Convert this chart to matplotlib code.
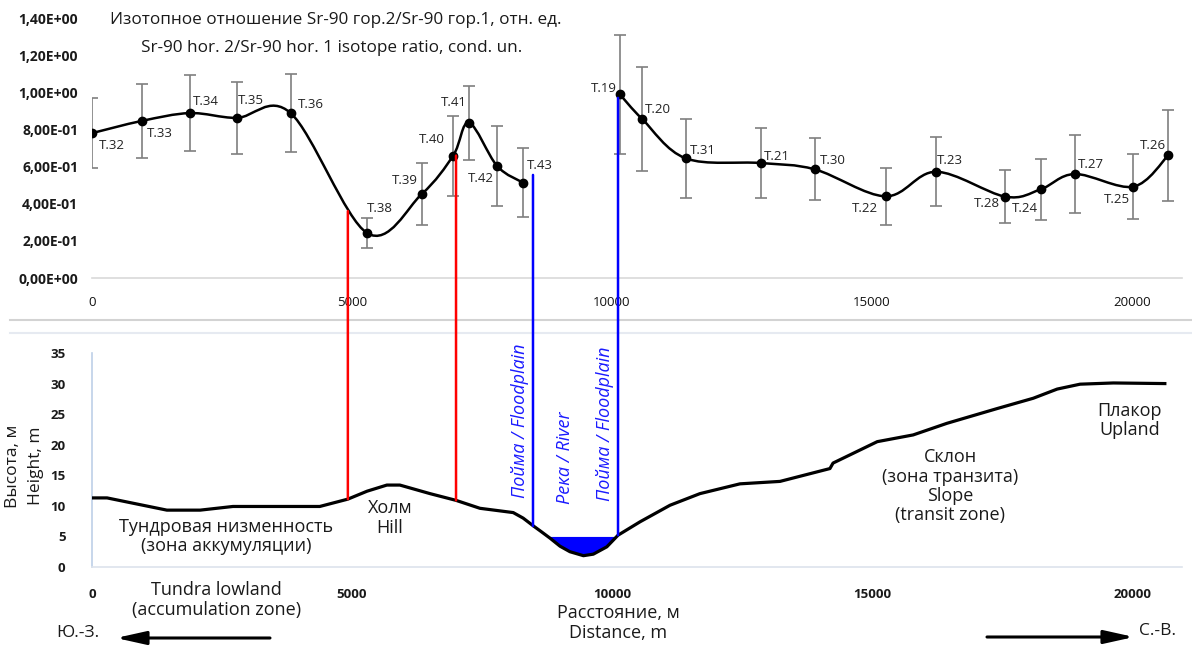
import numpy as np
import matplotlib
matplotlib.use("Agg")
import matplotlib.pyplot as plt
from matplotlib.path import Path
from matplotlib.patches import PathPatch, ConnectionPatch, FancyArrowPatch
from matplotlib.lines import Line2D
from matplotlib.ticker import FuncFormatter

plt.rcParams['font.family'] = ['Open Sans', 'DejaVu Sans']

# ---------------- data ----------------
left_names = ["T.32", "T.33", "T.34", "T.35", "T.36", "T.38", "T.39", "T.40", "T.41", "T.42", "T.43"]
left_x = [0, 960, 1885, 2780, 3820, 5290, 6340, 6945, 7250, 7790, 8290]
left_y = [0.78, 0.846, 0.888, 0.862, 0.888, 0.242, 0.452, 0.659, 0.836, 0.603, 0.513]
left_err = [0.19, 0.20, 0.205, 0.195, 0.21, 0.08, 0.167, 0.215, 0.20, 0.215, 0.185]

right_names = ["T.19", "T.20", "T.31", "T.21", "T.30", "T.22", "T.23", "T.28", "T.24", "T.27", "T.25", "T.26"]
right_x = [10150, 10580, 11420, 12860, 13900, 15260, 16230, 17560, 18240, 18900, 20025, 20700]
right_y = [0.989, 0.856, 0.644, 0.619, 0.585, 0.44, 0.572, 0.438, 0.477, 0.56, 0.492, 0.662]
right_err = [0.32, 0.28, 0.213, 0.187, 0.167, 0.153, 0.186, 0.142, 0.164, 0.21, 0.175, 0.245]

ground_x = [0, 290, 1440, 2080, 2710, 4380, 4920, 5290, 5670, 5920, 6500, 7000, 7460, 8100,
            8290, 8490, 8620, 8810, 9000, 9190, 9450, 9640, 9900, 10115, 10540, 11115, 11690,
            12460, 13230, 14190, 14250, 15100, 15790, 16440, 17400, 18100, 18560, 19000, 19640, 20630]
ground_y = [11.3, 11.3, 9.3, 9.3, 9.9, 9.9, 11.1, 12.4, 13.4, 13.4, 12.0, 10.9, 9.6, 8.9,
            8.0, 6.7, 5.9, 4.7, 3.4, 2.5, 1.85, 2.1, 3.3, 5.2, 7.4, 10.1, 12.0,
            13.6, 14.0, 16.1, 17.0, 20.5, 21.6, 23.5, 25.9, 27.6, 29.1, 29.9, 30.1, 30.0]
water_level = 5.0

red_x = [4920, 7000]
red_top = [0.36, 0.659]
red_bottom = [11.1, 10.9]
blue_x = [8480, 10115]
blue_top = [0.555, 0.97]
blue_bottom = [6.7, 5.2]

x_ticks = [0, 5000, 10000, 15000, 20000]
ratio_ticks = [0.0, 0.2, 0.4, 0.6, 0.8, 1.0, 1.2, 1.4]
height_ticks = [0, 5, 10, 15, 20, 25, 30, 35]

# label placement (ha, dx px, dy px)
left_lab = [("left", 7, -12), ("left", 5, -13), ("left", 3, 12), ("left", 1, 17), ("left", 7, 9),
            ("left", 0, 25), ("right", -4, 14), ("right", -8, 16), ("right", -2, 20),
            ("right", -3, -12), ("left", 4, 17)]
right_lab = [("right", -3, 6), ("left", 3, 10), ("left", 4, 8), ("left", 3, 7), ("left", 5, 9),
             ("right", -8, -12), ("left", 1, 11), ("right", -5, -7), ("right", -3, -19),
             ("left", 3, 9), ("right", -3, -13), ("right", -3, 10)]

W, H = 1192, 646
fig = plt.figure(figsize=(W / 100, H / 100), dpi=100)
XMAX = 20960

def fx(px):
    return px / W

def fy(py):
    return 1 - py / H

ax1 = fig.add_axes([fx(92), fy(278), fx(1182) - fx(92), fy(18) - fy(278)])
ax2 = fig.add_axes([fx(92), fy(567), fx(1182) - fx(92), fy(353) - fy(567)])


def smooth_path(xs, ys):
    pts = np.column_stack([xs, ys]).astype(float)
    n = len(pts)
    verts = [pts[0]]
    codes = [Path.MOVETO]
    for i in range(n - 1):
        p0 = pts[i - 1] if i > 0 else pts[i]
        p1 = pts[i]
        p2 = pts[i + 1]
        p3 = pts[i + 2] if i + 2 < n else pts[i + 1]
        c1 = p1 + (p2 - p0) / 6.0
        c2 = p2 - (p3 - p1) / 6.0
        verts += [c1, c2, p2]
        codes += [Path.CURVE4] * 3
    return Path(verts, codes)

# ---------------- top chart ----------------
for xs, ys, es, names, labs in [(left_x, left_y, left_err, left_names, left_lab),
                                (right_x, right_y, right_err, right_names, right_lab)]:
    ax1.errorbar(xs, ys, yerr=es, fmt='none', ecolor='#7f7f7f', elinewidth=1.2,
                 capsize=4, capthick=1.2, zorder=2)
    ax1.add_patch(PathPatch(smooth_path(xs, ys), facecolor='none', edgecolor='black',
                            lw=1.8, zorder=3))
    ax1.plot(xs, ys, 'o', color='black', ms=6, zorder=4)
    for x, y, nm, (ha, dx, dy) in zip(xs, ys, names, labs):
        ax1.annotate(nm, (x, y), xytext=(dx, dy), textcoords='offset pixels',
                     ha=ha, va='center', fontsize=9.5, color='#222222', zorder=5)

ax1.set_xlim(0, XMAX)
ax1.set_ylim(0, 1.4)
ax1.set_xticks(x_ticks)
ax1.set_yticks(ratio_ticks)
ax1.yaxis.set_major_formatter(FuncFormatter(lambda v, p: f"{v:.2E}".replace('.', ',')))
for s in ['top', 'right', 'left']:
    ax1.spines[s].set_visible(False)
ax1.spines['bottom'].set_color('#d9d9d9')
ax1.spines['bottom'].set_linewidth(1.2)
ax1.tick_params(axis='both', length=0)
ax1.tick_params(axis='x', pad=13, labelsize=9.5, labelcolor='#111111')
ax1.tick_params(axis='y', pad=10, labelsize=10, labelcolor='#1a1a1a')
for t in ax1.get_yticklabels():
    t.set_fontweight('bold')

fig.text(fx(336), fy(20), "Изотопное отношение Sr-90 гор.2/Sr-90 гор.1, отн. ед.",
         ha='center', va='center', fontsize=12.3, color='#1a1a1a')
fig.text(fx(332), fy(48), "Sr-90 hor. 2/Sr-90 hor. 1 isotope ratio, cond. un.",
         ha='center', va='center', fontsize=12.3, color='#1a1a1a')

# ---------------- bottom chart ----------------
gx = np.array(ground_x, dtype=float)
gy = np.array(ground_y, dtype=float)
ax2.fill_between(gx, gy, water_level, where=gy <= water_level + 0.01, interpolate=True,
                 color='#0000ff', lw=0, zorder=2)
ax2.plot(gx, gy, color='black', lw=2.3, zorder=3)
ax2.set_xlim(0, XMAX)
ax2.set_ylim(0, 35)
ax2.set_xticks(x_ticks)
ax2.set_yticks(height_ticks)
for s in ['top', 'right']:
    ax2.spines[s].set_visible(False)
ax2.spines['left'].set_color('#bdd0e8')
ax2.spines['left'].set_linewidth(1.2)
ax2.spines['bottom'].set_color('#dde3ec')
ax2.spines['bottom'].set_linewidth(1.2)
ax2.tick_params(axis='both', length=0, labelsize=9.5, labelcolor='#1a1a1a')
ax2.tick_params(axis='x', pad=15)
ax2.tick_params(axis='y', pad=19)
for t in ax2.get_xticklabels() + ax2.get_yticklabels():
    t.set_fontweight('bold')

# connecting vertical lines
for xs, tops, bots, col in [(red_x, red_top, red_bottom, '#ff0000'),
                            (blue_x, blue_top, blue_bottom, '#0000ff')]:
    for x, t, b in zip(xs, tops, bots):
        cp = ConnectionPatch((x, t), (x, b), coordsA='data', coordsB='data',
                             axesA=ax1, axesB=ax2, color=col, lw=1.8, zorder=6)
        fig.add_artist(cp)

# rotated labels
rot_kw = dict(rotation=90, ha='center', va='center', fontsize=13, style='italic',
              color='#1a1aff')
ax2.text(8230, 23.9, "Пойма / Floodplain", **rot_kw)
ax2.text(9100, 17.8, "Река / River", **rot_kw)
ax2.text(9870, 23.5, "Пойма / Floodplain", **rot_kw)

zone_kw = dict(ha='center', va='center', fontsize=13, color='#1a1a1a', linespacing=1.1)
ax2.text(2580, 5.0, "Тундровая низменность\n(зона аккумуляции)", **zone_kw)
ax2.text(5730, 8.0, "Холм\nHill", **zone_kw)
ax2.text(16500, 13.2, "Склон\n(зона транзита)\nSlope\n(transit zone)", **zone_kw)
ax2.text(19960, 24.0, "Плакор\nUpland", **zone_kw)
ax2.text(2400, -5.4, "Tundra lowland\n(accumulation zone)", clip_on=False, **zone_kw)

fig.text(fx(618), fy(623), "Расстояние, м\nDistance, m", ha='center', va='center',
         fontsize=13, color='#1a1a1a', linespacing=1.1)
fig.text(fx(13), fy(466), "Высота, м", rotation=90, ha='center', va='center',
         fontsize=12.5, color='#1a1a1a')
fig.text(fx(36), fy(466), "Height, m", rotation=90, ha='center', va='center',
         fontsize=12.5, color='#1a1a1a')

# separators between panels
fig.add_artist(Line2D([fx(10), 1], [fy(320), fy(320)], color='#d3d3d3', lw=1.5))
fig.add_artist(Line2D([fx(10), 1], [fy(333), fy(333)], color='#e6eaf1', lw=1.5))

# direction arrows
fig.text(fx(78), fy(633), "Ю.-З.", ha='center', va='center', fontsize=12.5, color='#1a1a1a')
fig.text(fx(1157), fy(631), "С.-В.", ha='center', va='center', fontsize=12.5, color='#1a1a1a')
arrow_kw = dict(arrowstyle='-|>,head_length=0.9,head_width=0.2', mutation_scale=20,
                lw=2.2, color='black', shrinkA=0, shrinkB=0)
fig.add_artist(FancyArrowPatch((fx(270), fy(638)), (fx(116), fy(638)),
                               transform=fig.transFigure, **arrow_kw))
fig.add_artist(FancyArrowPatch((fx(987), fy(637)), (fx(1134), fy(637)),
                               transform=fig.transFigure, **arrow_kw))

fig.savefig("out.png", dpi=100)
